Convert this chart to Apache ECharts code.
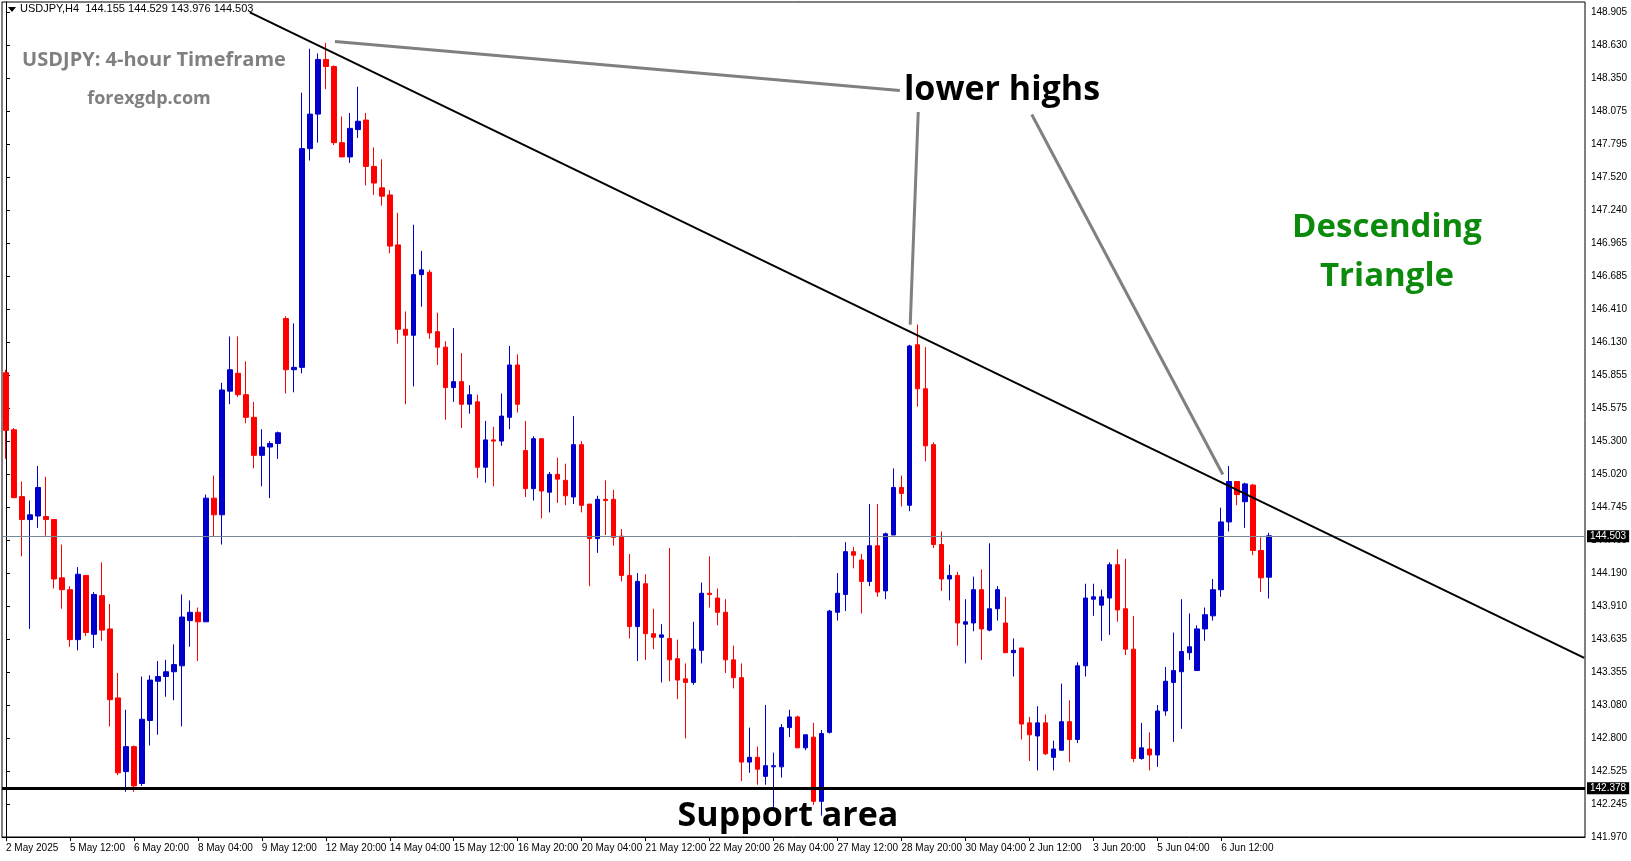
<!DOCTYPE html>
<html><head><meta charset="utf-8">
<script src="https://cdn.jsdelivr.net/npm/echarts@6/dist/echarts.min.js"></script>
<style>html,body{margin:0;padding:0;background:#fff}#c{width:1631px;height:861px}</style>
</head><body><div id="c"></div>
<script>
// OHLC per 4h candle: [open, close, low, high]
const candles = [
[145.875,145.39,145.15,145.90],[145.395,144.824,144.82,145.41],[144.833,144.64,144.33,144.96],[144.64,144.68,143.72,144.80],
[144.67,144.91,144.57,145.09],[144.665,144.64,144.505,145.0],[144.64,144.14,144.06,144.64],[144.15,144.05,143.89,144.43],
[144.05,143.63,143.57,144.08],[143.63,144.18,143.54,144.24],[144.17,143.69,143.66,144.17],[143.675,144.01,143.56,144.03],
[144.0,143.71,143.62,144.28],[143.72,143.125,142.90,143.93],[143.14,142.51,142.49,143.35],[142.52,142.73,142.35,143.04],
[142.73,142.40,142.35,142.74],[142.42,142.96,142.40,143.32],[142.95,143.29,142.74,143.33],[143.28,143.32,142.83,143.45],
[143.32,143.36,143.15,143.46],[143.36,143.42,143.12,143.59],[143.41,143.82,142.90,144.01],[143.79,143.86,143.57,143.96],
[143.86,143.78,143.45,143.90],[143.78,144.82,143.78,144.85],[144.82,144.68,144.50,145.01],[144.68,145.73,144.43,145.79],
[145.72,145.90,145.61,146.18],[145.87,145.69,145.67,146.18],[145.69,145.50,145.45,145.97],[145.50,145.18,145.07,145.63],
[145.18,145.25,144.92,145.40],[145.25,145.28,144.82,145.30],[145.28,145.37,145.15,145.38],[146.33,145.90,145.70,146.35],
[145.90,145.92,145.71,146.29],[145.92,147.76,145.87,148.23],[147.76,148.05,147.66,148.60],[148.05,148.51,147.81,148.56],
[148.51,148.45,148.26,148.65],[148.45,147.81,147.79,148.46],[147.81,147.69,147.69,148.03],[147.69,147.93,147.64,148.06],
[147.92,147.99,147.85,148.28],[148.00,147.61,147.45,148.06],[147.61,147.47,147.37,147.77],[147.43,147.36,147.28,147.67],
[147.37,146.94,146.88,147.41],[146.95,146.24,146.12,147.22],[146.24,146.19,145.61,146.39],[146.19,146.70,145.76,147.12],
[146.70,146.74,146.43,146.90],[146.72,146.21,146.16,146.74],[146.22,146.09,145.94,146.38],[146.09,145.75,145.48,146.14],
[145.75,145.80,145.63,146.25],[145.80,145.61,145.41,146.04],[145.61,145.69,145.53,145.77],[145.63,145.08,144.99,145.69],
[145.08,145.31,144.95,145.47],[145.31,145.30,144.92,145.42],[145.30,145.51,145.26,145.70],[145.50,145.94,145.40,146.10],
[145.94,145.61,145.54,146.03],[145.22,144.90,144.83,145.47],[144.90,145.32,144.80,145.34],[145.32,144.88,144.65,145.32],
[144.87,145.02,144.70,145.04],[145.02,144.98,144.78,145.16],[144.97,144.84,144.76,145.11],[144.83,145.27,144.77,145.51],
[145.27,144.76,144.70,145.30],[144.77,144.48,144.08,144.77],[144.48,144.81,144.36,144.84],[144.81,144.80,144.51,144.97],
[144.81,144.49,144.42,144.89],[144.50,144.17,144.12,144.56],[144.17,143.74,143.64,144.35],[143.74,144.12,143.45,144.19],
[144.10,143.68,143.46,144.18],[143.68,143.65,143.55,143.89],[143.65,143.67,143.27,143.76],[143.64,143.46,143.28,144.40],
[143.47,143.29,143.13,143.63],[143.30,143.27,142.80,143.43],[143.27,143.55,143.25,143.78],[143.54,144.02,143.43,144.11],
[144.02,144.01,143.90,144.33],[143.98,143.86,143.75,144.06],[143.86,143.46,143.35,143.97],[143.46,143.31,143.22,143.58],
[143.31,142.60,142.44,143.43],[142.60,142.64,142.51,142.89],[142.64,142.54,142.41,142.73],[142.48,142.57,142.41,143.08],
[142.56,142.57,142.22,142.68],[142.56,142.89,142.47,142.92],[142.89,142.98,142.81,143.04],[142.98,142.72,142.72,142.99],
[142.72,142.83,142.70,142.83],[142.81,142.27,142.24,142.93],[142.27,142.84,142.15,142.87],[142.85,143.87,142.84,143.88],
[143.86,144.02,143.79,144.19],[144.01,144.37,143.87,144.45],[144.37,144.34,144.23,144.41],[144.30,144.12,143.85,144.35],
[144.12,144.42,144.08,144.77],[144.42,144.03,143.99,144.77],[144.04,144.52,143.97,144.53],[144.51,144.91,144.51,145.07],
[144.91,144.86,144.75,145.01],[144.76,146.10,144.71,146.11],[146.11,145.74,145.59,146.28],[145.74,145.26,145.13,146.09],
[145.27,144.43,144.40,145.29],[144.43,144.14,144.04,144.54],[144.14,144.17,143.96,144.26],[144.17,143.77,143.58,144.20],
[143.76,143.78,143.43,143.97],[143.77,144.05,143.70,144.16],[144.05,143.72,143.46,144.22],[143.71,143.89,143.70,144.44],
[143.89,144.05,143.79,144.08],[143.77,143.52,143.52,143.99],[143.52,143.54,143.32,143.64],[143.56,142.92,142.79,143.56],
[142.93,142.83,142.61,142.98],[142.82,142.93,142.53,143.07],[142.93,142.67,142.66,143.00],[142.64,142.71,142.53,142.78],
[142.70,142.94,142.70,143.26],[142.94,142.79,142.60,143.12],[142.79,143.41,142.76,143.44],[143.41,143.98,143.32,144.10],
[143.97,143.99,143.83,144.10],[143.92,143.99,143.62,144.05],[143.98,144.26,143.67,144.28],[144.26,143.88,143.78,144.39],
[143.89,143.55,143.50,144.31],[143.55,142.63,142.60,143.83],[142.63,142.72,142.62,142.93],[142.71,142.66,142.53,142.85],
[142.66,143.03,142.56,143.08],[143.03,143.28,142.99,143.40],[143.27,143.37,142.77,143.69],[143.36,143.53,142.88,143.97],
[143.52,143.57,143.46,143.85],[143.37,143.72,143.37,143.75],[143.72,143.84,143.62,143.90],[143.83,144.05,143.79,144.14],
[144.05,144.62,143.99,144.74],[144.62,144.96,144.54,145.09],[144.96,144.85,144.76,144.96],[144.79,144.94,144.57,144.95],
[144.93,144.38,144.34,144.94],[144.38,144.15,144.03,144.49],[144.155,144.503,143.976,144.529]
];
const timeLabels = ['2 May 2025','5 May 12:00','6 May 20:00','8 May 04:00','9 May 12:00','12 May 20:00','14 May 04:00',
'15 May 12:00','16 May 20:00','20 May 04:00','21 May 12:00','22 May 20:00','26 May 04:00','27 May 12:00','28 May 20:00',
'30 May 04:00','2 Jun 12:00','3 Jun 20:00','5 Jun 04:00','6 Jun 12:00'];
const priceTicks = ['141.970','142.245','142.525','142.800','143.080','143.355','143.635','143.910','144.190','144.465',
'144.745','145.020','145.300','145.575','145.855','146.130','146.410','146.685','146.965','147.240','147.520','147.795',
'148.075','148.350','148.630','148.905'];
const supportLevel = 142.378;
const lastPrice = 144.503;
const trendLine = [[30.5,148.905],[197.4,143.476]];
const pointerLines = [
  [[41.15,148.660],[111.8,148.249]],
  [[114.1,148.068],[113.1,146.279]],
  [[128.3,148.047],[152.2,145.019]]
];
const SLOTS = 198;
const cats = [];
for (let i=0;i<SLOTS;i++) cats.push(i%8===0 && timeLabels[i/8] ? timeLabels[i/8] : '');

const YMIN = 141.970, YMAX = 148.993, STEP = (148.905-141.970)/25;
const chart = echarts.init(document.getElementById('c'));
const lineSeries = (pts, color, width) => ({
  type:'line', xAxisIndex:1, yAxisIndex:0, data:pts, symbol:'none', silent:true,
  lineStyle:{color, width}, z:5, animation:false
});
chart.setOption({
  animation:false,
  grid:{left:2, right:46, top:2, bottom:24, show:true, borderColor:'#000', borderWidth:1},
  xAxis:[{
    type:'category', data:cats, boundaryGap:true,
    axisLine:{lineStyle:{color:'#000'}},
    axisTick:{show:true, interval:(i)=>i%8===0 && !!timeLabels[i/8], alignWithLabel:true, length:4, lineStyle:{color:'#000'}},
    axisLabel:{interval:0, align:'left', margin:6, color:'#000', fontFamily:'Liberation Sans Narrow, Liberation Sans', fontSize:10,
      formatter:(v)=>v},
    splitLine:{show:false}
  },{
    type:'value', min:-0.5, max:SLOTS-0.5, show:false
  }],
  yAxis:{
    type:'value', position:'right', min:YMIN, max:YMAX, interval:STEP, scale:true,
    axisLine:{show:true, lineStyle:{color:'#000'}},
    axisTick:{show:true, length:4, lineStyle:{color:'#000'}},
    splitLine:{show:false},
    axisLabel:{showMaxLabel:false, margin:6, color:'#000', fontFamily:'Liberation Sans', fontSize:10,
      formatter:(v)=>{const k=Math.round((v-YMIN)/STEP); return priceTicks[k]||'';}}
  },
  series:[
    {type:'candlestick', data:candles, barWidth:5, z:3,
     itemStyle:{color:'#0000CD', color0:'#FF0000', borderColor:'#0000CD', borderColor0:'#FF0000', borderWidth:1},
     markLine:{symbol:'none', silent:true, animation:false,
       data:[
        {yAxis:lastPrice, lineStyle:{color:'#778899', width:1, type:'solid'},
         label:{show:true, position:'end', formatter:lastPrice.toFixed(3), color:'#fff', backgroundColor:'#000',
           padding:[1,3], fontFamily:'Liberation Sans', fontSize:10, distance:2}},
        {yAxis:supportLevel, lineStyle:{color:'#000', width:3, type:'solid'},
         label:{show:true, position:'end', formatter:supportLevel.toFixed(3), color:'#fff', backgroundColor:'#000',
           padding:[1,3], fontFamily:'Liberation Sans', fontSize:10, distance:2}}
       ]}},
    lineSeries(trendLine,'#000',2),
    ...pointerLines.map(p=>lineSeries(p,'#808080',3))
  ],
  graphic:[
    {type:'polygon', shape:{points:[[8,7],[16,7],[12,12]]}, style:{fill:'#000'}},
    {type:'text', left:20, top:3, style:{text:'USDJPY,H4  144.155 144.529 143.976 144.503', font:'11px "Liberation Sans"', fill:'#000'}},
    {type:'text', x:154, y:60, style:{text:'USDJPY: 4-hour Timeframe', font:'bold 20px "Open Sans"', fill:'#808080', align:'center', verticalAlign:'middle'}},
    {type:'text', x:149, y:99, style:{text:'forexgdp.com', font:'bold 18px "Open Sans"', fill:'#808080', align:'center', verticalAlign:'middle'}},
    {type:'text', x:1002, y:90, style:{text:'lower highs', font:'bold 34px "Open Sans"', fill:'#000', align:'center', verticalAlign:'middle'}},
    {type:'text', x:1387, y:228, style:{text:'Descending', font:'bold 33px "Open Sans"', fill:'#0B8A0B', align:'center', verticalAlign:'middle'}},
    {type:'text', x:1387, y:277, style:{text:'Triangle', font:'bold 33px "Open Sans"', fill:'#0B8A0B', align:'center', verticalAlign:'middle'}},
    {type:'text', x:788, y:816, style:{text:'Support area', font:'bold 34px "Open Sans"', fill:'#000', align:'center', verticalAlign:'middle'}}
  ]
});
</script></body></html>
